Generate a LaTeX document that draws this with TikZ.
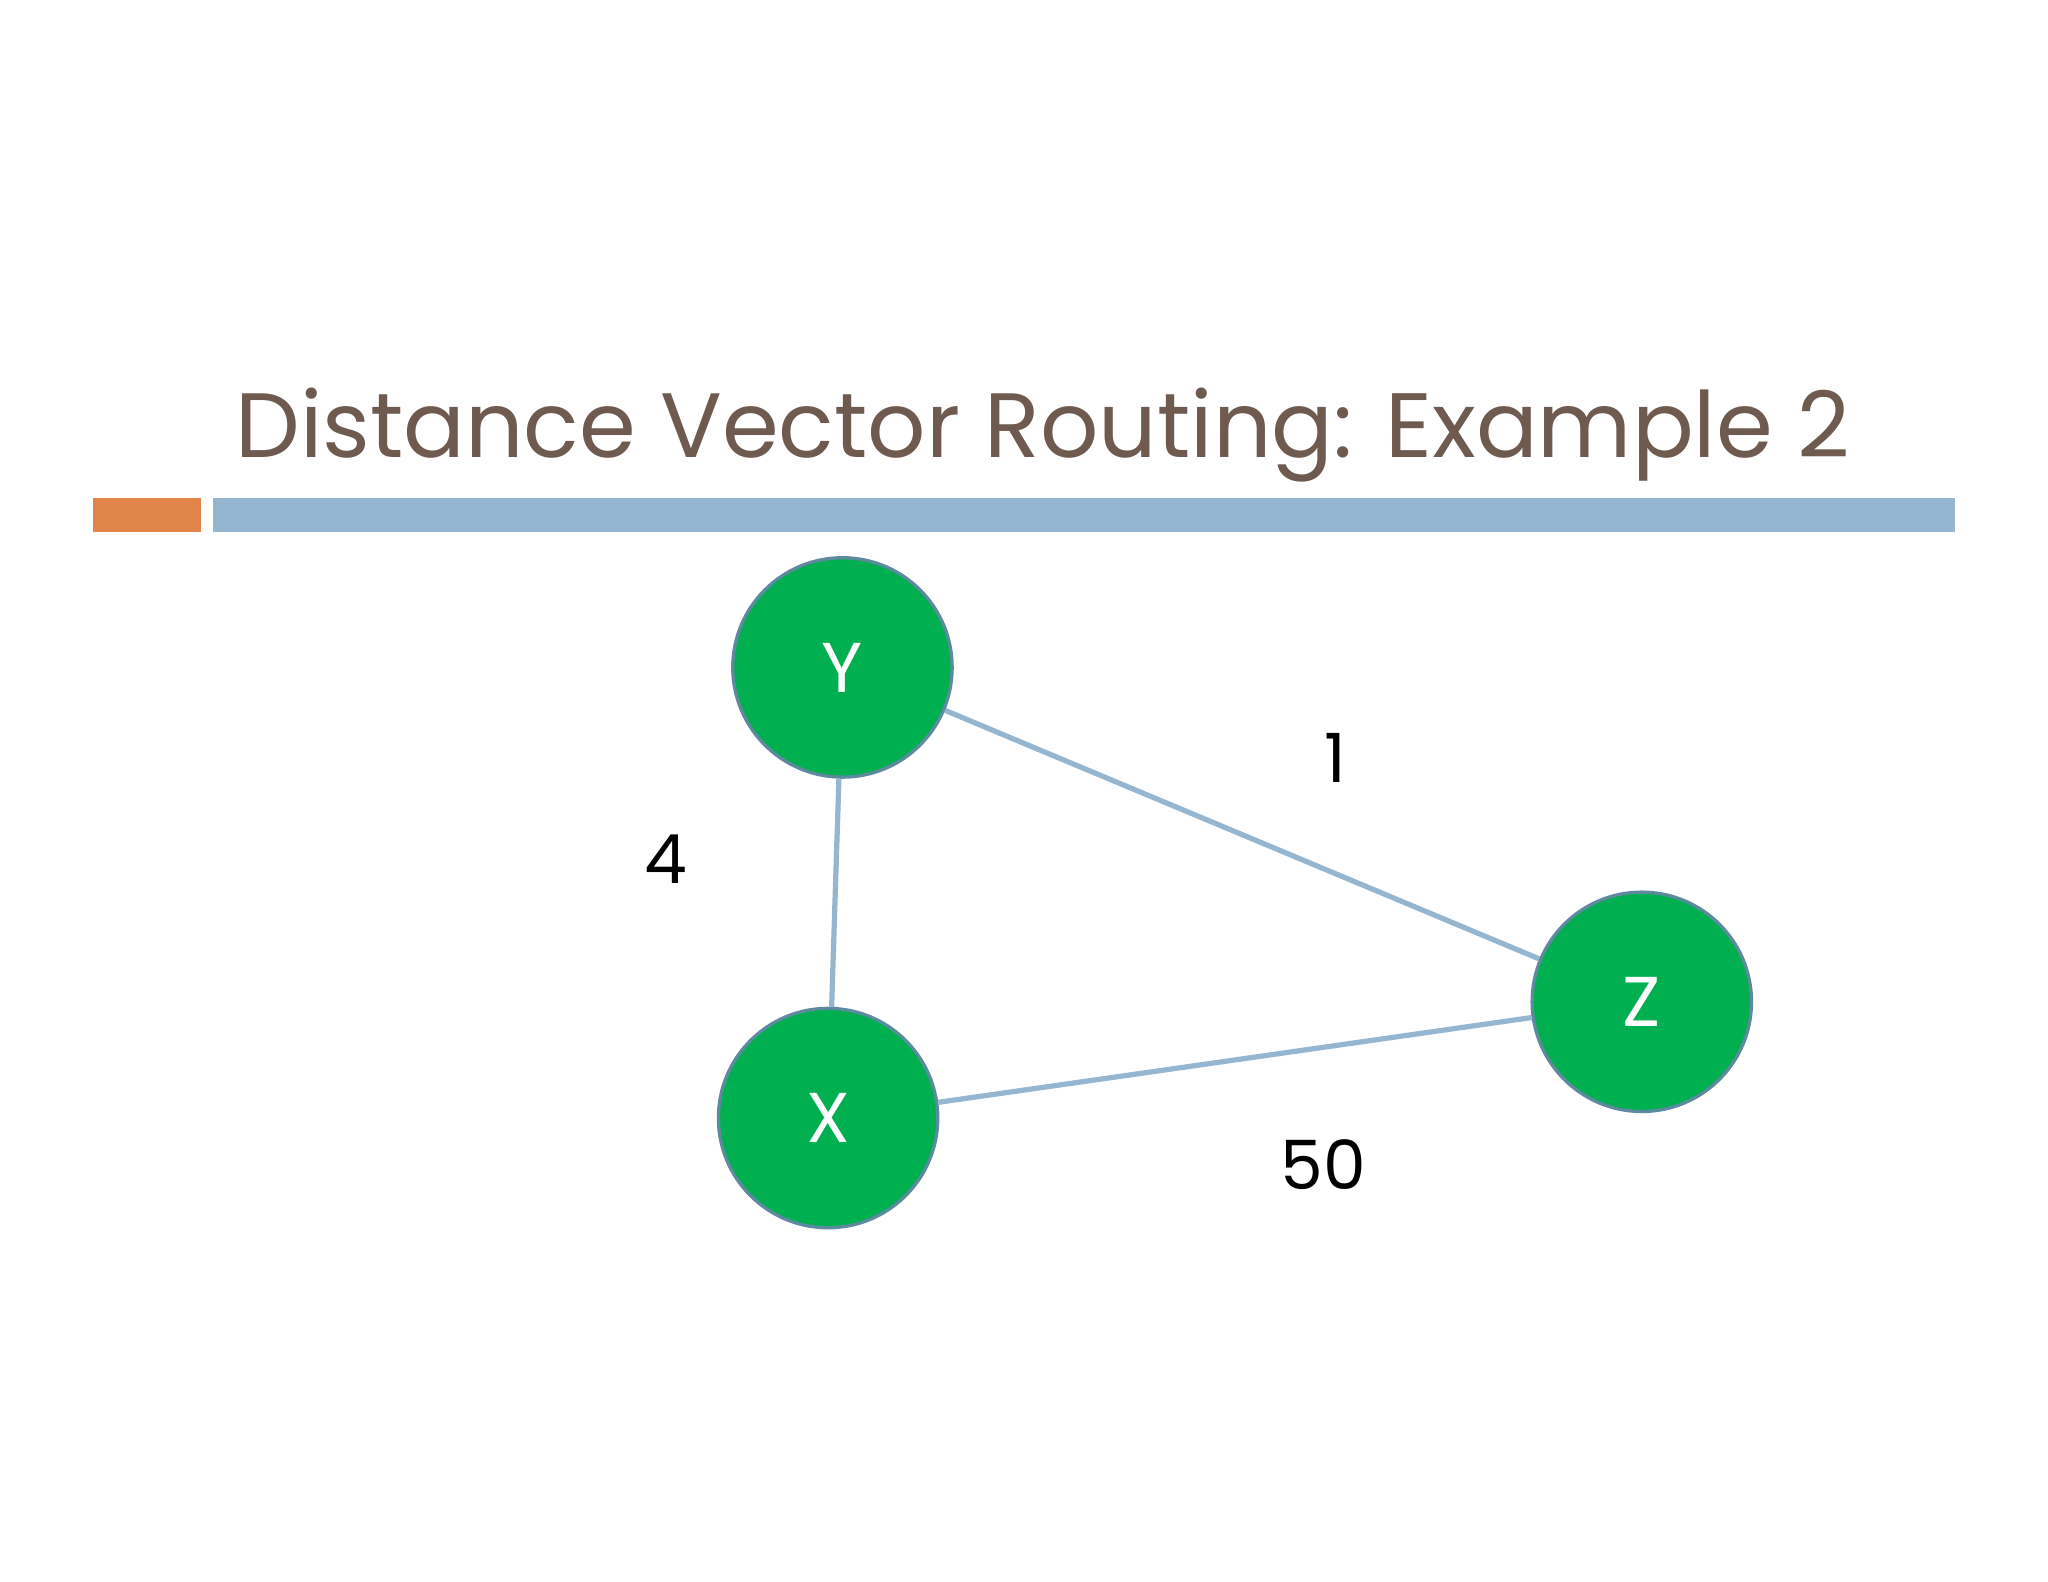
\documentclass[tikz,border=0pt]{standalone}
\usepackage{fontspec}
\setmainfont{Poppins}
\definecolor{titlec}{HTML}{6E5A4E}
\definecolor{orangec}{HTML}{E0844A}
\definecolor{bluec}{HTML}{95B6D0}
\definecolor{greenc}{HTML}{00B050}
\definecolor{borderc}{HTML}{5E8AA0}
\begin{document}
\begin{tikzpicture}[x=1pt,y=-1pt,
  router/.style={circle,fill=greenc,draw=borderc,line width=2.5pt,minimum size=168pt,inner sep=0pt,text=white,font=\fontsize{54}{60}\selectfont},
  link/.style={draw=bluec,line width=4pt},
  cost/.style={font=\fontsize{52}{60}\selectfont,text=black}]
\useasboundingbox (0,0) rectangle (1568,1211);
\node[anchor=base west,text=titlec,font=\fontsize{70}{80}\selectfont,inner sep=0pt] (title) at (180,350) {Distance Vector Routing: Example 2};
\fill[orangec] (71,381) rectangle (154,407);
\fill[bluec] (163,381) rectangle (1497,407);
\node[router] (Y) at (645,511) {Y};
\node[router] (X) at (634,856) {X};
\node[router] (Z) at (1257,767) {Z};
\draw[link] (Y) -- (X);
\draw[link] (Y) -- (Z);
\draw[link] (X) -- (Z);
\node[cost] (c1) at (1022,580) {1};
\node[cost] (c4) at (510,658) {4};
\node[cost] (c50) at (1013,892) {50};
\end{tikzpicture}
\end{document}
